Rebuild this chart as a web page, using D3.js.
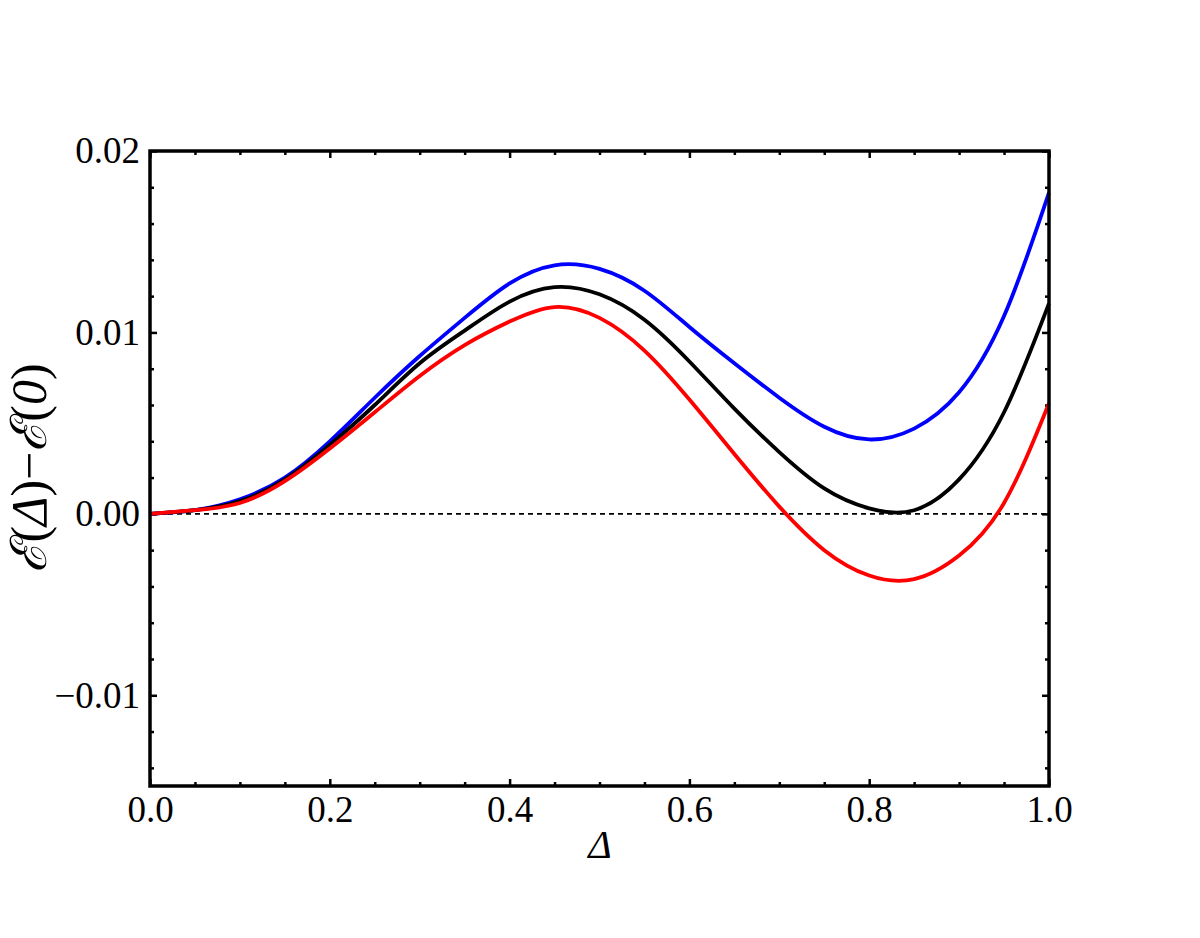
<!doctype html>
<html>
<head>
<meta charset="utf-8">
<title>Energy difference</title>
<script src="https://cdn.jsdelivr.net/npm/d3@7"></script>
<style>
  body { margin: 0; background: #fff; }
  svg text { font-family: "Liberation Serif", "DejaVu Serif", serif; }
</style>
</head>
<body>
<svg width="1200" height="938"></svg>
<script>
// data
var deltas = [0, 0.05, 0.1, 0.15, 0.2, 0.25, 0.3, 0.35, 0.4, 0.45, 0.5,
              0.55, 0.6, 0.65, 0.7, 0.75, 0.8, 0.85, 0.9, 0.95, 1.0];
var blueVals = [0, 0.0002, 0.0008, 0.0020, 0.0040, 0.0064, 0.0087, 0.0108, 0.0127, 0.0137, 0.0135,
                0.0123, 0.0103, 0.0083, 0.0064, 0.0048, 0.0041, 0.0047, 0.0067, 0.0109, 0.0177];
var blackVals = [0, 0.0002, 0.0007, 0.0019, 0.0038, 0.0060, 0.0083, 0.0101, 0.0117, 0.0125, 0.0121,
                 0.0107, 0.0084, 0.0058, 0.0034, 0.0014, 0.0003, 0.0002, 0.0019, 0.0056, 0.0116];
var redVals = [0, 0.0002, 0.0006, 0.0018, 0.0036, 0.0056, 0.0076, 0.0093, 0.0106, 0.0114, 0.0108,
               0.0090, 0.0063, 0.0033, 0.0004, -0.0020, -0.0034, -0.0036, -0.0023, 0.0006, 0.0061];
var xTicks = [0, 0.2, 0.4, 0.6, 0.8, 1.0];
var yTicks = [-0.01, 0, 0.01, 0.02];

var series = [
    { name: "blue", color: "#0000ff", values: blueVals },
    { name: "black", color: "#000000", values: blackVals },
    { name: "red", color: "#ff0000", values: redVals }
];

var plotLeft = 150, plotRight = 1049, plotTop = 151, plotBottom = 786;

var svg = d3.select("svg");

var x = d3.scaleLinear().domain([0, 1]).range([plotLeft, plotRight]);
var y = d3.scaleLinear().domain([-0.015, 0.02]).range([plotBottom, plotTop]);

var minorX = d3.range(0, 1.0001, 0.05).filter(function(v) { return Math.abs(v * 5 - Math.round(v * 5)) > 1e-6; });
var minorY = d3.range(-0.014, 0.0201, 0.002).filter(function(v) { return Math.abs(v * 100 - Math.round(v * 100)) > 1e-6; });

function styleAxis(g) {
    g.select(".domain").remove();
    g.attr("font-family", null).attr("font-size", null);
    g.selectAll(".tick line").attr("stroke", "#000").attr("stroke-width", 2.5);
    g.selectAll(".tick text").attr("fill", "#000").style("font-size", "37px");
}

// bottom axis with labels
svg.append("g")
    .attr("transform", "translate(0," + plotBottom + ")")
    .call(d3.axisBottom(x).tickValues(xTicks).tickSize(-7).tickPadding(8)
        .tickFormat(d3.format(".1f")))
    .call(styleAxis)
    .selectAll(".tick text").attr("dy", "0.75em");
// top axis, ticks only
svg.append("g")
    .attr("transform", "translate(0," + plotTop + ")")
    .call(d3.axisTop(x).tickValues(xTicks).tickSize(-7).tickFormat(""))
    .call(styleAxis);
// minor x ticks
[[plotBottom, d3.axisBottom], [plotTop, d3.axisTop]].forEach(function(p) {
    svg.append("g")
        .attr("transform", "translate(0," + p[0] + ")")
        .call(p[1](x).tickValues(minorX).tickSize(-4).tickFormat(""))
        .call(styleAxis);
});

// left axis with labels
svg.append("g")
    .attr("transform", "translate(" + plotLeft + ",0)")
    .call(d3.axisLeft(y).tickValues(yTicks).tickSize(-7).tickPadding(10)
        .tickFormat(function(d) { return d3.format(".2f")(d).replace("-", "\u2212"); }))
    .call(styleAxis);
svg.append("g")
    .attr("transform", "translate(" + plotRight + ",0)")
    .call(d3.axisRight(y).tickValues(yTicks).tickSize(-7).tickFormat(""))
    .call(styleAxis);
[[plotLeft, d3.axisLeft], [plotRight, d3.axisRight]].forEach(function(p) {
    svg.append("g")
        .attr("transform", "translate(" + p[0] + ",0)")
        .call(p[1](y).tickValues(minorY).tickSize(-4).tickFormat(""))
        .call(styleAxis);
});

// dashed zero line
svg.append("line")
    .attr("x1", x(0)).attr("x2", x(1))
    .attr("y1", y(0)).attr("y2", y(0))
    .attr("stroke", "#000")
    .attr("stroke-width", 1.6)
    .attr("stroke-dasharray", "5,4");

// curves
var line = d3.line()
    .x(function(d, i) { return x(deltas[i]); })
    .y(function(d) { return y(d); })
    .curve(d3.curveNatural);

svg.append("g")
    .selectAll("path")
    .data(series)
    .enter().append("path")
    .attr("d", function(s) { return line(s.values); })
    .attr("fill", "none")
    .attr("stroke", function(s) { return s.color; })
    .attr("stroke-width", 3.8);

// frame
svg.append("rect")
    .attr("x", plotLeft).attr("y", plotTop)
    .attr("width", plotRight - plotLeft).attr("height", plotBottom - plotTop)
    .attr("fill", "none")
    .attr("stroke", "#000")
    .attr("stroke-width", 3.5);

// axis titles
svg.append("text")
    .attr("x", 600).attr("y", 858)
    .attr("text-anchor", "middle")
    .style("font-size", "40px")
    .style("font-style", "italic")
    .text("\u0394");

var ylab = svg.append("text")
    .attr("transform", "translate(46,468) rotate(-90)")
    .attr("text-anchor", "middle")
    .style("font-size", "50px");
ylab.append("tspan").style("font-family", "DejaVu Serif").style("font-style", "italic").text("\u2130");
ylab.append("tspan").text("(");
ylab.append("tspan").style("font-style", "italic").text("\u0394");
ylab.append("tspan").text(")\u2212");
ylab.append("tspan").style("font-family", "DejaVu Serif").style("font-style", "italic").text("\u2130");
ylab.append("tspan").text("(");
ylab.append("tspan").style("font-style", "italic").text("0");
ylab.append("tspan").text(")");
</script>
</body>
</html>
